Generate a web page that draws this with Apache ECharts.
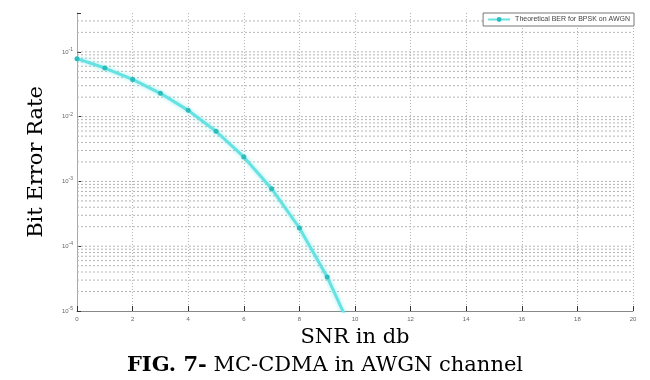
<!DOCTYPE html>
<html>
<head>
<meta charset="utf-8">
<script src="https://cdn.jsdelivr.net/npm/echarts@6/dist/echarts.min.js"></script>
<style>
  html, body { margin: 0; padding: 0; background: #fff; }
  #chart { width: 650px; height: 380px; }
</style>
</head>
<body>
<div id="chart"></div>
<script>
const snr = [0, 1, 2, 3, 4, 5, 6, 7, 8, 9, 10];
const ber = [0.0786, 0.0563, 0.0375, 0.0229, 0.0125, 0.00595, 0.00239, 0.000773, 0.000191, 0.0000336, 0.00000387];
const xTicks = [0, 2, 4, 6, 8, 10, 12, 14, 16, 18, 20];
const decades = [-5, -4, -3, -2, -1];
const mantissas = [2, 3, 4, 5, 6, 7, 8, 9];
const yMin = 0.00001;
const yMax = 0.398;
const seriesName = "Theoretical BER for BPSK on AWGN";

// dotted horizontal grid at 1..9 of each decade
const gridValues = [];
decades.forEach((d) => {
  [1].concat(mantissas).forEach((m) => {
    const v = m * Math.pow(10, d);
    if (v > yMin && v < yMax) gridValues.push(v);
  });
});

const gridSeries = gridValues.map((v) => ({
  type: "line",
  silent: true,
  symbol: "none",
  data: [[0, v], [20, v]],
  lineStyle: { color: "#b4b4b4", type: [2, 2], width: 1 },
  z: 1
}));

const chart = echarts.init(document.getElementById("chart"));
chart.setOption({
  animation: false,
  grid: { left: 77, right: 17, top: 13, bottom: 69 },
  title: [
    {
      text: "{b|FIG. 7-} MC-CDMA in AWGN channel",
      left: "center",
      top: 350,
      textStyle: {
        fontFamily: "DejaVu Serif",
        fontSize: 21,
        color: "#000",
        fontWeight: "normal",
        rich: { b: { fontFamily: "DejaVu Serif", fontSize: 21, fontWeight: "bold", color: "#000" } }
      }
    }
  ],
  legend: {
    right: 16,
    top: 13,
    itemWidth: 22,
    itemHeight: 6,
    itemGap: 4,
    padding: [3, 4, 3, 4],
    borderColor: "#777",
    borderWidth: 1,
    backgroundColor: "#fff",
    textStyle: { fontSize: 7, color: "#444", fontFamily: "Liberation Sans" },
    data: [seriesName]
  },
  xAxis: {
    type: "value",
    min: 0,
    max: 20,
    interval: 2,
    name: "SNR in db",
    nameLocation: "middle",
    nameGap: 8,
    nameTextStyle: { fontFamily: "DejaVu Serif", fontSize: 21, color: "#000" },
    axisLine: { show: true, lineStyle: { color: "#888", width: 1 } },
    axisTick: { inside: true, length: 5, lineStyle: { color: "#333" } },
    axisLabel: {
      fontSize: 6,
      color: "#666",
      margin: 5,
      formatter: (v) => (xTicks.indexOf(v) >= 0 ? String(v) : "")
    },
    splitLine: { show: true, lineStyle: { color: "#b4b4b4", type: [1, 2], width: 1 } }
  },
  yAxis: {
    type: "log",
    min: yMin,
    max: yMax,
    logBase: 10,
    name: "Bit Error Rate",
    nameLocation: "middle",
    nameGap: 30,
    nameTextStyle: { fontFamily: "DejaVu Serif", fontSize: 21, color: "#000" },
    axisLine: { show: true, lineStyle: { color: "#aaa", width: 1 } },
    axisTick: { inside: true, length: 4, lineStyle: { color: "#333" } },
    axisLabel: {
      margin: 4,
      formatter: (v) => {
        const e = Math.log10(v);
        if (Math.abs(e - Math.round(e)) > 1e-6) return "";
        return "{b|10}{s|" + Math.round(e) + "}";
      },
      rich: {
        b: { fontSize: 6, color: "#666" },
        s: { fontSize: 5, color: "#666", verticalAlign: "top", padding: [0, 0, 5, 0] }
      }
    },
    splitLine: { show: false }
  },
  series: gridSeries.concat([
    {
      name: seriesName,
      type: "line",
      data: snr.map((x, i) => [x, ber[i]]),
      clip: true,
      symbol: "circle",
      symbolSize: 5,
      itemStyle: { color: "#2cbcbc" },
      lineStyle: { color: "#66e2e2", width: 3, shadowColor: "rgba(90,225,225,0.6)", shadowBlur: 4 },
      z: 5
    }
  ])
});
</script>
</body>
</html>
